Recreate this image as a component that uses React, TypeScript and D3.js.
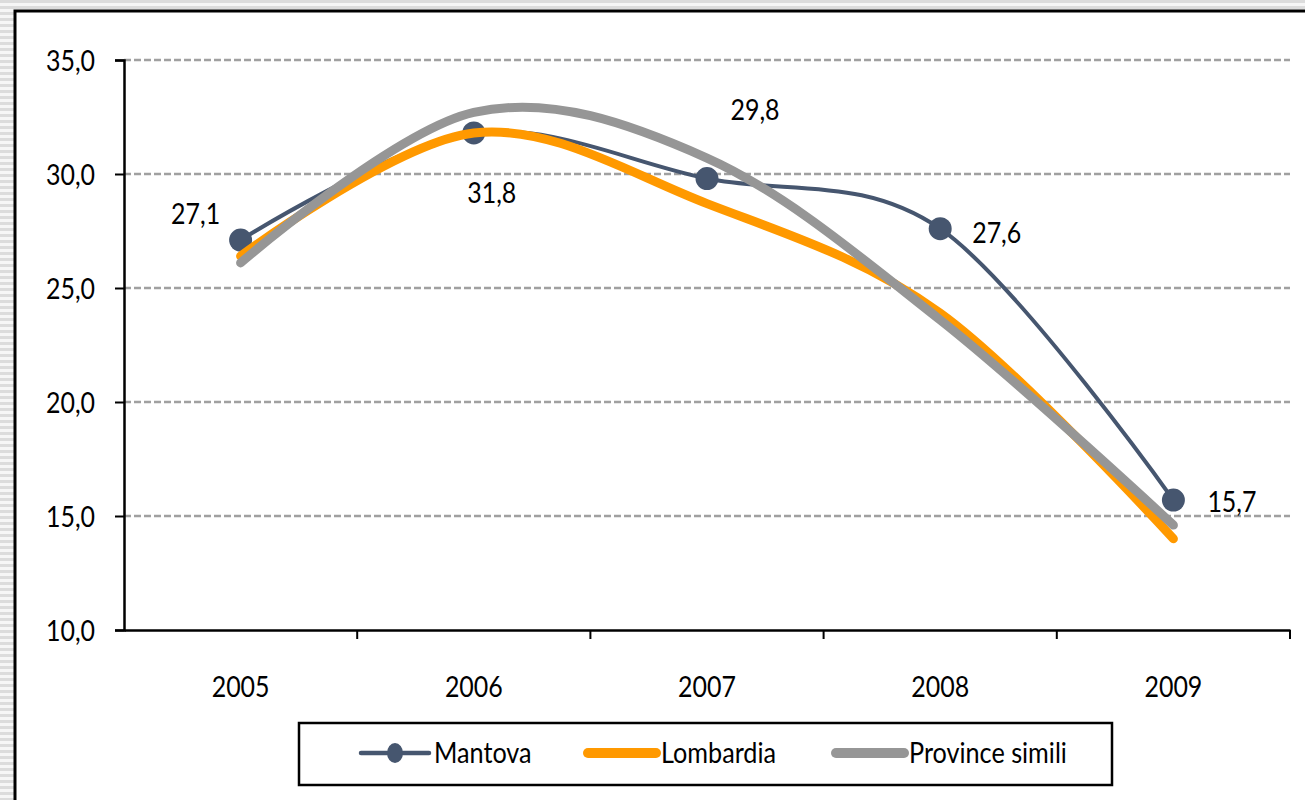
import React, { useEffect, useRef } from 'react';
import * as d3 from 'd3';

const years = ['2005', '2006', '2007', '2008', '2009'];
const mantova = [27.1, 31.8, 29.8, 27.6, 15.7];
const lombardia = [26.4, 31.8, 28.7, 23.9, 14.0];
const provinceSimili = [26.1, 32.7, 30.7, 23.6, 14.6];
const yTicks = [10, 15, 20, 25, 30, 35];
const seriesNames = ['Mantova', 'Lombardia', 'Province simili'];

const FONT = "Lato, 'Open Sans', sans-serif";

// the original uses a tall, narrow font; squeeze text horizontally
const squeeze = (sel: any, f: number) => {
  sel.each(function (this: SVGTextElement) {
    const len = this.getComputedTextLength();
    d3.select(this).attr('textLength', len * f).attr('lengthAdjust', 'spacingAndGlyphs');
  });
};

const fmt = (v: number) => d3.format('.1f')(v).replace('.', ',');

const App = () => {
  const ref = useRef<SVGSVGElement>(null);

  useEffect(() => {
    const svg = d3.select(ref.current);
    svg.selectAll('*').remove();

    const W = 1305, H = 800;
    const margin = { left: 124, right: 15, top: 60, bottom: 170 };

    // striped background on the left / top like the original slide
    const defs = svg.append('defs');
    const pat = defs.append('pattern')
      .attr('id', 'stripes').attr('width', 6).attr('height', 6)
      .attr('patternUnits', 'userSpaceOnUse');
    pat.append('rect').attr('width', 6).attr('height', 6).attr('fill', '#f6f6f6');
    pat.append('rect').attr('y', 0).attr('width', 6).attr('height', 3).attr('fill', '#dcdcdc');
    svg.append('rect').attr('x', 0).attr('y', 0).attr('width', W).attr('height', H).attr('fill', 'url(#stripes)');

    // white chart area with black frame
    svg.append('rect').attr('x', 15).attr('y', 11).attr('width', W).attr('height', H)
      .attr('fill', '#fff').attr('stroke', '#000').attr('stroke-width', 3);

    const x = d3.scaleBand().domain(years).range([margin.left, W - margin.right]);
    const y = d3.scaleLinear().domain([10, 35]).range([H - margin.bottom, margin.top]);
    const cx = (d: string) => (x(d) as number) + x.bandwidth() / 2;

    // gridlines
    svg.append('g').selectAll('line')
      .data(yTicks.filter(t => t > 10))
      .join('line')
      .attr('x1', margin.left).attr('x2', W - margin.right)
      .attr('y1', d => y(d)).attr('y2', d => y(d))
      .attr('stroke', '#a0a0a0').attr('stroke-width', 2.5).attr('stroke-dasharray', '7,3');

    // y axis
    const yAxis = svg.append('g')
      .attr('transform', `translate(${margin.left},0)`)
      .call(d3.axisLeft(y).tickValues(yTicks).tickSize(9).tickPadding(20)
        .tickFormat(d => fmt(d as number)));
    yAxis.select('.domain').attr('stroke', '#000').attr('stroke-width', 2.5);
    yAxis.selectAll('.tick line').attr('stroke', '#000').attr('stroke-width', 2);
    yAxis.selectAll('text').attr('font-family', FONT).attr('font-size', 29).attr('fill', '#000')
      .attr('dy', 10);
    squeeze(yAxis.selectAll('text'), 0.86);

    // x axis
    const xAxis = svg.append('g')
      .attr('transform', `translate(0,${y(10)})`)
      .call(d3.axisBottom(x).tickSize(0).tickPadding(0));
    xAxis.select('.domain').attr('stroke', '#000').attr('stroke-width', 2.5);
    xAxis.selectAll('text').attr('font-family', FONT).attr('font-size', 29).attr('fill', '#000')
      .attr('y', 67).attr('dy', 0);
    squeeze(xAxis.selectAll('text'), 0.86);
    // tick marks between categories
    const bounds = years.map(d => x(d) as number).slice(1).concat([W - margin.right]);
    svg.append('g').selectAll('line').data(bounds).join('line')
      .attr('x1', d => d).attr('x2', d => d)
      .attr('y1', y(10)).attr('y2', y(10) + 9)
      .attr('stroke', '#000').attr('stroke-width', 2);

    const line = d3.line<number>()
      .x((_, i) => cx(years[i]))
      .y(d => y(d))
      .curve(d3.curveCardinal.tension(0));

    const series = [
      { name: 'Mantova', data: mantova, color: '#46566f', width: 4 },
      { name: 'Lombardia', data: lombardia, color: '#ff9900', width: 9 },
      { name: 'Province simili', data: provinceSimili, color: '#969696', width: 9 },
    ];

    series.forEach(s => {
      svg.append('path')
        .datum(s.data)
        .attr('d', line)
        .attr('fill', 'none')
        .attr('stroke', s.color)
        .attr('stroke-width', s.width)
        .attr('stroke-linecap', 'round');
      if (s.name === 'Mantova') {
        svg.append('g').selectAll('circle').data(s.data).join('circle')
          .attr('cx', (_, i) => cx(years[i]))
          .attr('cy', d => y(d))
          .attr('r', 11.5)
          .attr('fill', s.color);
      }
    });

    // data labels for Mantova
    const labelOffsets = [
      { dx: -45, dy: -16 },
      { dx: 18, dy: 70 },
      { dx: 48, dy: -59 },
      { dx: 32, dy: 14 },
      { dx: 34, dy: 12 },
    ];
    const labels = svg.append('g').selectAll('text').data(mantova).join('text')
      .attr('x', (_, i) => cx(years[i]) + labelOffsets[i].dx)
      .attr('y', (d, i) => y(d) + labelOffsets[i].dy)
      .attr('text-anchor', (_, i) => (i >= 3 ? 'start' : 'middle'))
      .attr('font-family', FONT).attr('font-size', 29).attr('fill', '#000')
      .text(d => fmt(d));
    squeeze(labels, 0.86);

    // legend
    const lg = svg.append('g');
    lg.append('rect').attr('x', 299).attr('y', 723).attr('width', 813).attr('height', 62)
      .attr('fill', '#fff').attr('stroke', '#000').attr('stroke-width', 2.5);
    const legendX = [361, 588, 836];
    series.forEach((s, i) => {
      const lx = legendX[i];
      lg.append('line')
        .attr('x1', lx).attr('x2', lx + 68).attr('y1', 753).attr('y2', 753)
        .attr('stroke', s.color).attr('stroke-width', s.name === 'Mantova' ? 4.5 : 10)
        .attr('stroke-linecap', 'round');
      if (s.name === 'Mantova') {
        lg.append('ellipse').attr('cx', lx + 34).attr('cy', 753).attr('rx', 8).attr('ry', 10).attr('fill', s.color);
      }
      const t = lg.append('text')
        .attr('x', lx + 73).attr('y', 763)
        .attr('font-family', FONT).attr('font-size', 28).attr('fill', '#000')
        .text(seriesNames[i]);
      squeeze(t, 0.9);
    });
  }, []);

  return (
    <div style={{ position: 'absolute', left: 0, top: 0 }}>
      <svg ref={ref} width={1305} height={800} style={{ display: 'block' }} />
    </div>
  );
};

export default App;
